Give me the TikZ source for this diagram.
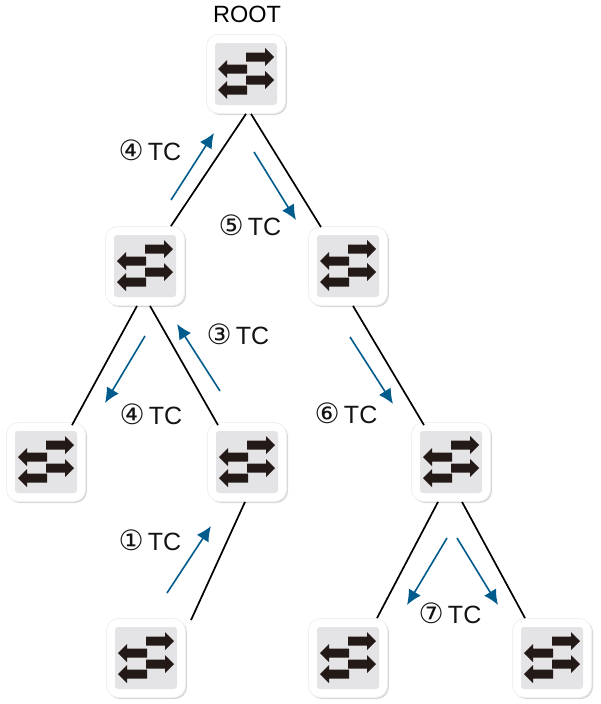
\documentclass[tikz,border=0pt]{standalone}
\usepackage{fontspec}
\setmainfont{Liberation Sans}
\newfontfamily\circfont{DejaVu Sans}
\usetikzlibrary{shadows,calc,arrows.meta}
\definecolor{tileGray}{RGB}{228,227,229}
\definecolor{iconBlack}{RGB}{35,25,22}
\definecolor{tcBlue}{RGB}{0,92,140}
\tikzset{
  x=1pt,y=-1pt,
  tile/.style={draw=black!6,line width=.8pt,fill=white,rounded corners=12pt,minimum width=79pt,minimum height=79pt,inner sep=0pt,
    general shadow={shadow xshift=1.5pt,shadow yshift=-1.5pt,fill=black!30,opacity=.5}},
  tileface/.style={fill=tileGray,rounded corners=3pt},
  iconarrow/.style={fill=iconBlack,draw=none},
  link/.style={draw=black,line width=1.7pt},
  tcflow/.style={draw=tcBlue,line width=1.6pt,-{Latex[length=15pt,width=14pt]}},
  tclabel/.style={font=\fontsize{25}{27}\selectfont,inner sep=0pt,text=black!92},
  rootlabelstyle/.style={font=\fontsize{23.5}{26}\selectfont,inner sep=0pt,text=black},
}
\newcommand{\swtile}[3]{%
  \node[tile] (#1) at (#2,#3) {};
  \begin{scope}[shift={(#2,#3)}]
    \fill[tileface] (-31,-31) rectangle (31,31);
    \foreach \ya in {-17,6}
      \fill[iconarrow] (0,\ya-4.5) -- (19,\ya-4.5) -- (19,\ya-9) -- (28,\ya) -- (19,\ya+9) -- (19,\ya+4.5) -- (0,\ya+4.5) -- cycle;
    \foreach \yb in {-5,16}
      \fill[iconarrow] (1,\yb-4.5) -- (-19,\yb-4.5) -- (-19,\yb-9) -- (-28,\yb) -- (-19,\yb+9) -- (-19,\yb+4.5) -- (1,\yb+4.5) -- cycle;
  \end{scope}}
\newcommand{\tctext}[1]{{\circfont\fontsize{28}{28}\selectfont #1}\,TC}
\begin{document}
\begin{tikzpicture}
\useasboundingbox (0,0) rectangle (600,704);
\fill[white] (0,0) rectangle (600,704);
\swtile{root}{246}{74}
\swtile{sa}{145}{266}
\swtile{sb}{348}{266}
\swtile{sc}{46}{462}
\swtile{sd}{247}{462}
\swtile{se}{451}{462}
\swtile{sf}{146}{658}
\swtile{sg}{348}{658}
\swtile{sh}{552}{658}
\node[rootlabelstyle] (rootlabel) at (247,14) {ROOT};
\draw[link] ([xshift=0pt]root.south) -- ([xshift=-14pt]sa.north east);
\draw[link] ([xshift=5pt]root.south) -- ([xshift=-27pt,yshift=-1pt]sb.north);
\draw[link] ([xshift=-8pt]sa.south) -- ([xshift=26pt,yshift=-3pt]sc.north);
\draw[link] ([xshift=5pt]sa.south) -- ([xshift=-29pt,yshift=-3pt]sd.north);
\draw[link] ([xshift=5pt]sb.south) -- ([xshift=-27pt,yshift=-3pt]se.north);
\draw[link] ([xshift=-2pt]sd.south) -- ([xshift=45pt,yshift=-2pt]sf.north);
\draw[link] ([xshift=-13pt]se.south) -- ([xshift=29pt]sg.north);
\draw[link] ([xshift=11pt]se.south) -- ([xshift=-27pt]sh.north);
\coordinate (a1s) at (171,200); \coordinate (a1e) at (214,133);
\coordinate (a2s) at (254,152); \coordinate (a2e) at (296,220);
\coordinate (a3s) at (145,336); \coordinate (a3e) at (105,403);
\coordinate (a4s) at (220,391); \coordinate (a4e) at (177,324);
\coordinate (a5s) at (350,337); \coordinate (a5e) at (393,404);
\coordinate (a6s) at (167,593); \coordinate (a6e) at (211,526);
\coordinate (a7s) at (447,538); \coordinate (a7e) at (407,605);
\coordinate (a8s) at (457,538); \coordinate (a8e) at (498,605);
\foreach \n in {1,...,8} \draw[tcflow] (a\n s) -- (a\n e);
\node[tclabel] (l1) at (150,150) {\tctext{④}};
\node[tclabel] (l2) at (250,225) {\tctext{⑤}};
\node[tclabel] (l3) at (238,334) {\tctext{③}};
\node[tclabel] (l4) at (151,414) {\tctext{④}};
\node[tclabel] (l5) at (346,413) {\tctext{⑥}};
\node[tclabel] (l6) at (150,540) {\tctext{①}};
\node[tclabel] (l7) at (450,613) {\tctext{⑦}};
\end{tikzpicture}
\end{document}
